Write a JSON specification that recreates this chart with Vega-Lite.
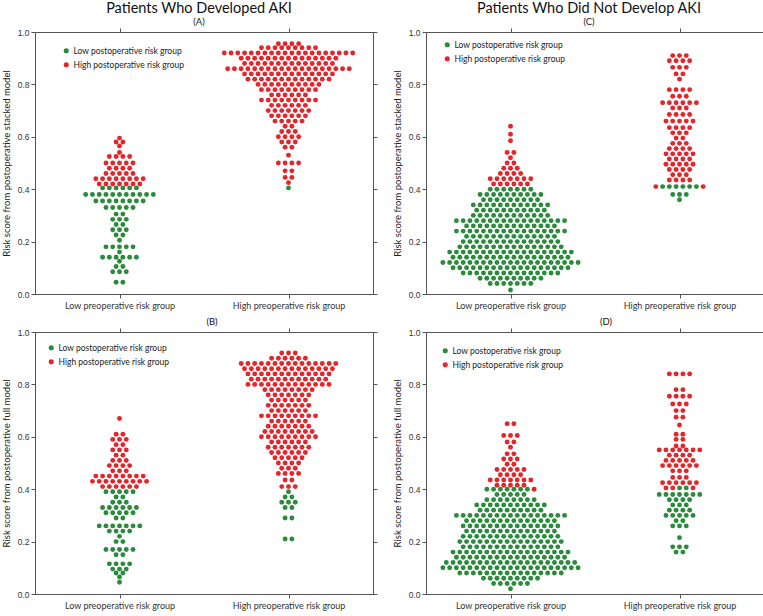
{
"$schema":"https://vega.github.io/schema/vega-lite/v6.json",
"background":"white",
"padding":{"left":0,"top":0,"right":0,"bottom":0},
"config":{
 "font":"Lato",
 "view":{"stroke":"#666","strokeWidth":1},
 "axis":{"domain":true,"ticks":true,"domainColor":"#555","domainWidth":1,"tickColor":"#555","tickWidth":1,"zindex":1,"grid":false,"labelColor":"#333","labelFont":"Liberation Sans","labelFontSize":8.5,"tickSize":4,"titleFont":"Lato","titleFontWeight":"normal","titleFontSize":9.5,"titleColor":"#222"},
 "legend":{"orient":"none","title":null,"symbolType":"circle","symbolSize":26,"symbolStrokeWidth":0,"labelFont":"Lato","labelFontSize":8.5,"labelColor":"#222","rowPadding":5,"labelOffset":3,"padding":0},
 "title":{"font":"Lato","fontWeight":"normal","color":"#111","anchor":"middle","frame":"group","subtitleFont":"Lato","subtitleColor":"#222"}
},
"datasets":{
"A":[
{"g":"L","c":"H","y":0.595},
{"g":"L","c":"H","y":0.58},{"g":"L","c":"H","y":0.58},
{"g":"L","c":"H","y":0.565},
{"g":"L","c":"H","y":0.54},
{"g":"L","c":"H","y":0.525},{"g":"L","c":"H","y":0.525},{"g":"L","c":"H","y":0.525},{"g":"L","c":"H","y":0.525},
{"g":"L","c":"H","y":0.5},{"g":"L","c":"H","y":0.5},{"g":"L","c":"H","y":0.5},{"g":"L","c":"H","y":0.5},{"g":"L","c":"H","y":0.5},
{"g":"L","c":"H","y":0.48},{"g":"L","c":"H","y":0.48},{"g":"L","c":"H","y":0.48},{"g":"L","c":"H","y":0.48},
{"g":"L","c":"H","y":0.46},{"g":"L","c":"H","y":0.46},{"g":"L","c":"H","y":0.46},{"g":"L","c":"H","y":0.46},{"g":"L","c":"H","y":0.46},
{"g":"L","c":"H","y":0.44},{"g":"L","c":"H","y":0.44},{"g":"L","c":"H","y":0.44},{"g":"L","c":"H","y":0.44},{"g":"L","c":"H","y":0.44},{"g":"L","c":"H","y":0.44},{"g":"L","c":"H","y":0.44},{"g":"L","c":"H","y":0.44},
{"g":"L","c":"H","y":0.42},{"g":"L","c":"H","y":0.42},{"g":"L","c":"H","y":0.42},{"g":"L","c":"H","y":0.42},{"g":"L","c":"H","y":0.42},{"g":"L","c":"H","y":0.42},{"g":"L","c":"H","y":0.42},
{"g":"L","c":"L","y":0.405},{"g":"L","c":"L","y":0.405},{"g":"L","c":"L","y":0.405},{"g":"L","c":"L","y":0.405},{"g":"L","c":"L","y":0.405},{"g":"L","c":"L","y":0.405},
{"g":"L","c":"L","y":0.38},{"g":"L","c":"L","y":0.38},{"g":"L","c":"L","y":0.38},{"g":"L","c":"L","y":0.38},{"g":"L","c":"L","y":0.38},{"g":"L","c":"L","y":0.38},{"g":"L","c":"L","y":0.38},{"g":"L","c":"L","y":0.38},{"g":"L","c":"L","y":0.38},{"g":"L","c":"L","y":0.38},{"g":"L","c":"L","y":0.38},
{"g":"L","c":"L","y":0.355},{"g":"L","c":"L","y":0.355},{"g":"L","c":"L","y":0.355},{"g":"L","c":"L","y":0.355},{"g":"L","c":"L","y":0.355},{"g":"L","c":"L","y":0.355},{"g":"L","c":"L","y":0.355},{"g":"L","c":"L","y":0.355},
{"g":"L","c":"L","y":0.33},{"g":"L","c":"L","y":0.33},{"g":"L","c":"L","y":0.33},{"g":"L","c":"L","y":0.33},{"g":"L","c":"L","y":0.33},
{"g":"L","c":"L","y":0.305},{"g":"L","c":"L","y":0.305},
{"g":"L","c":"L","y":0.285},{"g":"L","c":"L","y":0.285},{"g":"L","c":"L","y":0.285},
{"g":"L","c":"L","y":0.265},{"g":"L","c":"L","y":0.265},
{"g":"L","c":"L","y":0.245},{"g":"L","c":"L","y":0.245},{"g":"L","c":"L","y":0.245},
{"g":"L","c":"L","y":0.225},{"g":"L","c":"L","y":0.225},
{"g":"L","c":"L","y":0.205},
{"g":"L","c":"L","y":0.18},{"g":"L","c":"L","y":0.18},{"g":"L","c":"L","y":0.18},{"g":"L","c":"L","y":0.18},{"g":"L","c":"L","y":0.18},
{"g":"L","c":"L","y":0.16},
{"g":"L","c":"L","y":0.14},{"g":"L","c":"L","y":0.14},{"g":"L","c":"L","y":0.14},{"g":"L","c":"L","y":0.14},{"g":"L","c":"L","y":0.14},{"g":"L","c":"L","y":0.14},
{"g":"L","c":"L","y":0.125},
{"g":"L","c":"L","y":0.105},{"g":"L","c":"L","y":0.105},
{"g":"L","c":"L","y":0.085},{"g":"L","c":"L","y":0.085},{"g":"L","c":"L","y":0.085},
{"g":"L","c":"L","y":0.045},{"g":"L","c":"L","y":0.045},
{"g":"H","c":"H","y":0.955},{"g":"H","c":"H","y":0.955},{"g":"H","c":"H","y":0.955},{"g":"H","c":"H","y":0.955},
{"g":"H","c":"H","y":0.94},{"g":"H","c":"H","y":0.94},{"g":"H","c":"H","y":0.94},{"g":"H","c":"H","y":0.94},{"g":"H","c":"H","y":0.94},{"g":"H","c":"H","y":0.94},{"g":"H","c":"H","y":0.94},{"g":"H","c":"H","y":0.94},{"g":"H","c":"H","y":0.94},
{"g":"H","c":"H","y":0.92},{"g":"H","c":"H","y":0.92},{"g":"H","c":"H","y":0.92},{"g":"H","c":"H","y":0.92},{"g":"H","c":"H","y":0.92},{"g":"H","c":"H","y":0.92},{"g":"H","c":"H","y":0.92},{"g":"H","c":"H","y":0.92},{"g":"H","c":"H","y":0.92},{"g":"H","c":"H","y":0.92},{"g":"H","c":"H","y":0.92},{"g":"H","c":"H","y":0.92},{"g":"H","c":"H","y":0.92},{"g":"H","c":"H","y":0.92},{"g":"H","c":"H","y":0.92},{"g":"H","c":"H","y":0.92},{"g":"H","c":"H","y":0.92},{"g":"H","c":"H","y":0.92},{"g":"H","c":"H","y":0.92},{"g":"H","c":"H","y":0.92},
{"g":"H","c":"H","y":0.9},{"g":"H","c":"H","y":0.9},{"g":"H","c":"H","y":0.9},{"g":"H","c":"H","y":0.9},{"g":"H","c":"H","y":0.9},{"g":"H","c":"H","y":0.9},{"g":"H","c":"H","y":0.9},{"g":"H","c":"H","y":0.9},{"g":"H","c":"H","y":0.9},{"g":"H","c":"H","y":0.9},{"g":"H","c":"H","y":0.9},{"g":"H","c":"H","y":0.9},{"g":"H","c":"H","y":0.9},{"g":"H","c":"H","y":0.9},{"g":"H","c":"H","y":0.9},
{"g":"H","c":"H","y":0.88},{"g":"H","c":"H","y":0.88},{"g":"H","c":"H","y":0.88},{"g":"H","c":"H","y":0.88},{"g":"H","c":"H","y":0.88},{"g":"H","c":"H","y":0.88},{"g":"H","c":"H","y":0.88},{"g":"H","c":"H","y":0.88},{"g":"H","c":"H","y":0.88},{"g":"H","c":"H","y":0.88},{"g":"H","c":"H","y":0.88},{"g":"H","c":"H","y":0.88},{"g":"H","c":"H","y":0.88},{"g":"H","c":"H","y":0.88},
{"g":"H","c":"H","y":0.86},{"g":"H","c":"H","y":0.86},{"g":"H","c":"H","y":0.86},{"g":"H","c":"H","y":0.86},{"g":"H","c":"H","y":0.86},{"g":"H","c":"H","y":0.86},{"g":"H","c":"H","y":0.86},{"g":"H","c":"H","y":0.86},{"g":"H","c":"H","y":0.86},{"g":"H","c":"H","y":0.86},{"g":"H","c":"H","y":0.86},{"g":"H","c":"H","y":0.86},{"g":"H","c":"H","y":0.86},{"g":"H","c":"H","y":0.86},{"g":"H","c":"H","y":0.86},{"g":"H","c":"H","y":0.86},{"g":"H","c":"H","y":0.86},{"g":"H","c":"H","y":0.86},{"g":"H","c":"H","y":0.86},
{"g":"H","c":"H","y":0.84},{"g":"H","c":"H","y":0.84},{"g":"H","c":"H","y":0.84},{"g":"H","c":"H","y":0.84},{"g":"H","c":"H","y":0.84},{"g":"H","c":"H","y":0.84},{"g":"H","c":"H","y":0.84},{"g":"H","c":"H","y":0.84},{"g":"H","c":"H","y":0.84},{"g":"H","c":"H","y":0.84},{"g":"H","c":"H","y":0.84},{"g":"H","c":"H","y":0.84},{"g":"H","c":"H","y":0.84},{"g":"H","c":"H","y":0.84},
{"g":"H","c":"H","y":0.82},{"g":"H","c":"H","y":0.82},{"g":"H","c":"H","y":0.82},{"g":"H","c":"H","y":0.82},{"g":"H","c":"H","y":0.82},{"g":"H","c":"H","y":0.82},{"g":"H","c":"H","y":0.82},{"g":"H","c":"H","y":0.82},{"g":"H","c":"H","y":0.82},{"g":"H","c":"H","y":0.82},{"g":"H","c":"H","y":0.82},{"g":"H","c":"H","y":0.82},{"g":"H","c":"H","y":0.82},
{"g":"H","c":"H","y":0.8},{"g":"H","c":"H","y":0.8},{"g":"H","c":"H","y":0.8},{"g":"H","c":"H","y":0.8},{"g":"H","c":"H","y":0.8},{"g":"H","c":"H","y":0.8},{"g":"H","c":"H","y":0.8},{"g":"H","c":"H","y":0.8},{"g":"H","c":"H","y":0.8},{"g":"H","c":"H","y":0.8},
{"g":"H","c":"H","y":0.78},{"g":"H","c":"H","y":0.78},{"g":"H","c":"H","y":0.78},{"g":"H","c":"H","y":0.78},{"g":"H","c":"H","y":0.78},{"g":"H","c":"H","y":0.78},{"g":"H","c":"H","y":0.78},{"g":"H","c":"H","y":0.78},{"g":"H","c":"H","y":0.78},
{"g":"H","c":"H","y":0.76},{"g":"H","c":"H","y":0.76},{"g":"H","c":"H","y":0.76},{"g":"H","c":"H","y":0.76},{"g":"H","c":"H","y":0.76},{"g":"H","c":"H","y":0.76},
{"g":"H","c":"H","y":0.74},{"g":"H","c":"H","y":0.74},{"g":"H","c":"H","y":0.74},{"g":"H","c":"H","y":0.74},{"g":"H","c":"H","y":0.74},{"g":"H","c":"H","y":0.74},{"g":"H","c":"H","y":0.74},{"g":"H","c":"H","y":0.74},{"g":"H","c":"H","y":0.74},
{"g":"H","c":"H","y":0.72},{"g":"H","c":"H","y":0.72},{"g":"H","c":"H","y":0.72},{"g":"H","c":"H","y":0.72},{"g":"H","c":"H","y":0.72},{"g":"H","c":"H","y":0.72},
{"g":"H","c":"H","y":0.7},{"g":"H","c":"H","y":0.7},{"g":"H","c":"H","y":0.7},{"g":"H","c":"H","y":0.7},{"g":"H","c":"H","y":0.7},{"g":"H","c":"H","y":0.7},{"g":"H","c":"H","y":0.7},
{"g":"H","c":"H","y":0.68},{"g":"H","c":"H","y":0.68},{"g":"H","c":"H","y":0.68},{"g":"H","c":"H","y":0.68},{"g":"H","c":"H","y":0.68},{"g":"H","c":"H","y":0.68},
{"g":"H","c":"H","y":0.66},{"g":"H","c":"H","y":0.66},{"g":"H","c":"H","y":0.66},{"g":"H","c":"H","y":0.66},{"g":"H","c":"H","y":0.66},
{"g":"H","c":"H","y":0.64},{"g":"H","c":"H","y":0.64},
{"g":"H","c":"H","y":0.62},{"g":"H","c":"H","y":0.62},{"g":"H","c":"H","y":0.62},
{"g":"H","c":"H","y":0.6},{"g":"H","c":"H","y":0.6},{"g":"H","c":"H","y":0.6},{"g":"H","c":"H","y":0.6},
{"g":"H","c":"H","y":0.58},{"g":"H","c":"H","y":0.58},{"g":"H","c":"H","y":0.58},
{"g":"H","c":"H","y":0.56},{"g":"H","c":"H","y":0.56},
{"g":"H","c":"H","y":0.53},
{"g":"H","c":"H","y":0.5},{"g":"H","c":"H","y":0.5},{"g":"H","c":"H","y":0.5},{"g":"H","c":"H","y":0.5},
{"g":"H","c":"H","y":0.47},{"g":"H","c":"H","y":0.47},
{"g":"H","c":"H","y":0.445},{"g":"H","c":"H","y":0.445},
{"g":"H","c":"H","y":0.425},
{"g":"H","c":"L","y":0.405}
],
"C":[
{"g":"L","c":"H","y":0.64},
{"g":"L","c":"H","y":0.61},
{"g":"L","c":"H","y":0.585},
{"g":"L","c":"H","y":0.54},{"g":"L","c":"H","y":0.54},
{"g":"L","c":"H","y":0.52},
{"g":"L","c":"H","y":0.5},{"g":"L","c":"H","y":0.5},
{"g":"L","c":"H","y":0.48},{"g":"L","c":"H","y":0.48},{"g":"L","c":"H","y":0.48},
{"g":"L","c":"H","y":0.46},{"g":"L","c":"H","y":0.46},{"g":"L","c":"H","y":0.46},{"g":"L","c":"H","y":0.46},
{"g":"L","c":"H","y":0.44},{"g":"L","c":"H","y":0.44},{"g":"L","c":"H","y":0.44},{"g":"L","c":"H","y":0.44},{"g":"L","c":"H","y":0.44},{"g":"L","c":"H","y":0.44},{"g":"L","c":"H","y":0.44},
{"g":"L","c":"H","y":0.42},{"g":"L","c":"H","y":0.42},{"g":"L","c":"H","y":0.42},{"g":"L","c":"H","y":0.42},{"g":"L","c":"H","y":0.42},{"g":"L","c":"H","y":0.42},
{"g":"L","c":"L","y":0.4},{"g":"L","c":"L","y":0.4},{"g":"L","c":"L","y":0.4},{"g":"L","c":"L","y":0.4},{"g":"L","c":"L","y":0.4},{"g":"L","c":"L","y":0.4},{"g":"L","c":"L","y":0.4},
{"g":"L","c":"L","y":0.38},{"g":"L","c":"L","y":0.38},{"g":"L","c":"L","y":0.38},{"g":"L","c":"L","y":0.38},{"g":"L","c":"L","y":0.38},{"g":"L","c":"L","y":0.38},{"g":"L","c":"L","y":0.38},{"g":"L","c":"L","y":0.38},{"g":"L","c":"L","y":0.38},{"g":"L","c":"L","y":0.38},
{"g":"L","c":"L","y":0.36},{"g":"L","c":"L","y":0.36},{"g":"L","c":"L","y":0.36},{"g":"L","c":"L","y":0.36},{"g":"L","c":"L","y":0.36},{"g":"L","c":"L","y":0.36},{"g":"L","c":"L","y":0.36},{"g":"L","c":"L","y":0.36},{"g":"L","c":"L","y":0.36},
{"g":"L","c":"L","y":0.34},{"g":"L","c":"L","y":0.34},{"g":"L","c":"L","y":0.34},{"g":"L","c":"L","y":0.34},{"g":"L","c":"L","y":0.34},{"g":"L","c":"L","y":0.34},{"g":"L","c":"L","y":0.34},{"g":"L","c":"L","y":0.34},{"g":"L","c":"L","y":0.34},{"g":"L","c":"L","y":0.34},{"g":"L","c":"L","y":0.34},{"g":"L","c":"L","y":0.34},
{"g":"L","c":"L","y":0.32},{"g":"L","c":"L","y":0.32},{"g":"L","c":"L","y":0.32},{"g":"L","c":"L","y":0.32},{"g":"L","c":"L","y":0.32},{"g":"L","c":"L","y":0.32},{"g":"L","c":"L","y":0.32},{"g":"L","c":"L","y":0.32},{"g":"L","c":"L","y":0.32},{"g":"L","c":"L","y":0.32},{"g":"L","c":"L","y":0.32},
{"g":"L","c":"L","y":0.3},{"g":"L","c":"L","y":0.3},{"g":"L","c":"L","y":0.3},{"g":"L","c":"L","y":0.3},{"g":"L","c":"L","y":0.3},{"g":"L","c":"L","y":0.3},{"g":"L","c":"L","y":0.3},{"g":"L","c":"L","y":0.3},{"g":"L","c":"L","y":0.3},{"g":"L","c":"L","y":0.3},{"g":"L","c":"L","y":0.3},{"g":"L","c":"L","y":0.3},
{"g":"L","c":"L","y":0.28},{"g":"L","c":"L","y":0.28},{"g":"L","c":"L","y":0.28},{"g":"L","c":"L","y":0.28},{"g":"L","c":"L","y":0.28},{"g":"L","c":"L","y":0.28},{"g":"L","c":"L","y":0.28},{"g":"L","c":"L","y":0.28},{"g":"L","c":"L","y":0.28},{"g":"L","c":"L","y":0.28},{"g":"L","c":"L","y":0.28},{"g":"L","c":"L","y":0.28},{"g":"L","c":"L","y":0.28},{"g":"L","c":"L","y":0.28},{"g":"L","c":"L","y":0.28},{"g":"L","c":"L","y":0.28},{"g":"L","c":"L","y":0.28},
{"g":"L","c":"L","y":0.26},{"g":"L","c":"L","y":0.26},{"g":"L","c":"L","y":0.26},{"g":"L","c":"L","y":0.26},{"g":"L","c":"L","y":0.26},{"g":"L","c":"L","y":0.26},{"g":"L","c":"L","y":0.26},{"g":"L","c":"L","y":0.26},{"g":"L","c":"L","y":0.26},{"g":"L","c":"L","y":0.26},{"g":"L","c":"L","y":0.26},{"g":"L","c":"L","y":0.26},{"g":"L","c":"L","y":0.26},{"g":"L","c":"L","y":0.26},
{"g":"L","c":"L","y":0.24},{"g":"L","c":"L","y":0.24},{"g":"L","c":"L","y":0.24},{"g":"L","c":"L","y":0.24},{"g":"L","c":"L","y":0.24},{"g":"L","c":"L","y":0.24},{"g":"L","c":"L","y":0.24},{"g":"L","c":"L","y":0.24},{"g":"L","c":"L","y":0.24},{"g":"L","c":"L","y":0.24},{"g":"L","c":"L","y":0.24},{"g":"L","c":"L","y":0.24},{"g":"L","c":"L","y":0.24},{"g":"L","c":"L","y":0.24},{"g":"L","c":"L","y":0.24},{"g":"L","c":"L","y":0.24},{"g":"L","c":"L","y":0.24},
{"g":"L","c":"L","y":0.22},{"g":"L","c":"L","y":0.22},{"g":"L","c":"L","y":0.22},{"g":"L","c":"L","y":0.22},{"g":"L","c":"L","y":0.22},{"g":"L","c":"L","y":0.22},{"g":"L","c":"L","y":0.22},{"g":"L","c":"L","y":0.22},{"g":"L","c":"L","y":0.22},{"g":"L","c":"L","y":0.22},{"g":"L","c":"L","y":0.22},{"g":"L","c":"L","y":0.22},{"g":"L","c":"L","y":0.22},{"g":"L","c":"L","y":0.22},
{"g":"L","c":"L","y":0.2},{"g":"L","c":"L","y":0.2},{"g":"L","c":"L","y":0.2},{"g":"L","c":"L","y":0.2},{"g":"L","c":"L","y":0.2},{"g":"L","c":"L","y":0.2},{"g":"L","c":"L","y":0.2},{"g":"L","c":"L","y":0.2},{"g":"L","c":"L","y":0.2},{"g":"L","c":"L","y":0.2},{"g":"L","c":"L","y":0.2},{"g":"L","c":"L","y":0.2},{"g":"L","c":"L","y":0.2},{"g":"L","c":"L","y":0.2},{"g":"L","c":"L","y":0.2},
{"g":"L","c":"L","y":0.18},{"g":"L","c":"L","y":0.18},{"g":"L","c":"L","y":0.18},{"g":"L","c":"L","y":0.18},{"g":"L","c":"L","y":0.18},{"g":"L","c":"L","y":0.18},{"g":"L","c":"L","y":0.18},{"g":"L","c":"L","y":0.18},{"g":"L","c":"L","y":0.18},{"g":"L","c":"L","y":0.18},{"g":"L","c":"L","y":0.18},{"g":"L","c":"L","y":0.18},{"g":"L","c":"L","y":0.18},{"g":"L","c":"L","y":0.18},{"g":"L","c":"L","y":0.18},{"g":"L","c":"L","y":0.18},
{"g":"L","c":"L","y":0.16},{"g":"L","c":"L","y":0.16},{"g":"L","c":"L","y":0.16},{"g":"L","c":"L","y":0.16},{"g":"L","c":"L","y":0.16},{"g":"L","c":"L","y":0.16},{"g":"L","c":"L","y":0.16},{"g":"L","c":"L","y":0.16},{"g":"L","c":"L","y":0.16},{"g":"L","c":"L","y":0.16},{"g":"L","c":"L","y":0.16},{"g":"L","c":"L","y":0.16},{"g":"L","c":"L","y":0.16},{"g":"L","c":"L","y":0.16},{"g":"L","c":"L","y":0.16},{"g":"L","c":"L","y":0.16},{"g":"L","c":"L","y":0.16},{"g":"L","c":"L","y":0.16},{"g":"L","c":"L","y":0.16},
{"g":"L","c":"L","y":0.14},{"g":"L","c":"L","y":0.14},{"g":"L","c":"L","y":0.14},{"g":"L","c":"L","y":0.14},{"g":"L","c":"L","y":0.14},{"g":"L","c":"L","y":0.14},{"g":"L","c":"L","y":0.14},{"g":"L","c":"L","y":0.14},{"g":"L","c":"L","y":0.14},{"g":"L","c":"L","y":0.14},{"g":"L","c":"L","y":0.14},{"g":"L","c":"L","y":0.14},{"g":"L","c":"L","y":0.14},{"g":"L","c":"L","y":0.14},{"g":"L","c":"L","y":0.14},{"g":"L","c":"L","y":0.14},{"g":"L","c":"L","y":0.14},{"g":"L","c":"L","y":0.14},
{"g":"L","c":"L","y":0.12},{"g":"L","c":"L","y":0.12},{"g":"L","c":"L","y":0.12},{"g":"L","c":"L","y":0.12},{"g":"L","c":"L","y":0.12},{"g":"L","c":"L","y":0.12},{"g":"L","c":"L","y":0.12},{"g":"L","c":"L","y":0.12},{"g":"L","c":"L","y":0.12},{"g":"L","c":"L","y":0.12},{"g":"L","c":"L","y":0.12},{"g":"L","c":"L","y":0.12},{"g":"L","c":"L","y":0.12},{"g":"L","c":"L","y":0.12},{"g":"L","c":"L","y":0.12},{"g":"L","c":"L","y":0.12},{"g":"L","c":"L","y":0.12},{"g":"L","c":"L","y":0.12},{"g":"L","c":"L","y":0.12},{"g":"L","c":"L","y":0.12},{"g":"L","c":"L","y":0.12},
{"g":"L","c":"L","y":0.1},{"g":"L","c":"L","y":0.1},{"g":"L","c":"L","y":0.1},{"g":"L","c":"L","y":0.1},{"g":"L","c":"L","y":0.1},{"g":"L","c":"L","y":0.1},{"g":"L","c":"L","y":0.1},{"g":"L","c":"L","y":0.1},{"g":"L","c":"L","y":0.1},{"g":"L","c":"L","y":0.1},{"g":"L","c":"L","y":0.1},{"g":"L","c":"L","y":0.1},{"g":"L","c":"L","y":0.1},{"g":"L","c":"L","y":0.1},{"g":"L","c":"L","y":0.1},{"g":"L","c":"L","y":0.1},{"g":"L","c":"L","y":0.1},{"g":"L","c":"L","y":0.1},
{"g":"L","c":"L","y":0.08},{"g":"L","c":"L","y":0.08},{"g":"L","c":"L","y":0.08},{"g":"L","c":"L","y":0.08},{"g":"L","c":"L","y":0.08},{"g":"L","c":"L","y":0.08},{"g":"L","c":"L","y":0.08},{"g":"L","c":"L","y":0.08},{"g":"L","c":"L","y":0.08},{"g":"L","c":"L","y":0.08},{"g":"L","c":"L","y":0.08},{"g":"L","c":"L","y":0.08},{"g":"L","c":"L","y":0.08},{"g":"L","c":"L","y":0.08},{"g":"L","c":"L","y":0.08},
{"g":"L","c":"L","y":0.06},{"g":"L","c":"L","y":0.06},{"g":"L","c":"L","y":0.06},{"g":"L","c":"L","y":0.06},{"g":"L","c":"L","y":0.06},{"g":"L","c":"L","y":0.06},{"g":"L","c":"L","y":0.06},{"g":"L","c":"L","y":0.06},{"g":"L","c":"L","y":0.06},{"g":"L","c":"L","y":0.06},
{"g":"L","c":"L","y":0.04},{"g":"L","c":"L","y":0.04},{"g":"L","c":"L","y":0.04},{"g":"L","c":"L","y":0.04},{"g":"L","c":"L","y":0.04},{"g":"L","c":"L","y":0.04},{"g":"L","c":"L","y":0.04},
{"g":"L","c":"L","y":0.015},
{"g":"H","c":"H","y":0.91},{"g":"H","c":"H","y":0.91},{"g":"H","c":"H","y":0.91},
{"g":"H","c":"H","y":0.89},{"g":"H","c":"H","y":0.89},{"g":"H","c":"H","y":0.89},{"g":"H","c":"H","y":0.89},
{"g":"H","c":"H","y":0.865},{"g":"H","c":"H","y":0.865},{"g":"H","c":"H","y":0.865},
{"g":"H","c":"H","y":0.84},{"g":"H","c":"H","y":0.84},
{"g":"H","c":"H","y":0.82},
{"g":"H","c":"H","y":0.78},{"g":"H","c":"H","y":0.78},{"g":"H","c":"H","y":0.78},{"g":"H","c":"H","y":0.78},
{"g":"H","c":"H","y":0.755},{"g":"H","c":"H","y":0.755},{"g":"H","c":"H","y":0.755},
{"g":"H","c":"H","y":0.73},{"g":"H","c":"H","y":0.73},{"g":"H","c":"H","y":0.73},{"g":"H","c":"H","y":0.73},{"g":"H","c":"H","y":0.73},{"g":"H","c":"H","y":0.73},
{"g":"H","c":"H","y":0.71},{"g":"H","c":"H","y":0.71},{"g":"H","c":"H","y":0.71},
{"g":"H","c":"H","y":0.685},{"g":"H","c":"H","y":0.685},{"g":"H","c":"H","y":0.685},{"g":"H","c":"H","y":0.685},
{"g":"H","c":"H","y":0.66},{"g":"H","c":"H","y":0.66},{"g":"H","c":"H","y":0.66},{"g":"H","c":"H","y":0.66},{"g":"H","c":"H","y":0.66},
{"g":"H","c":"H","y":0.635},{"g":"H","c":"H","y":0.635},{"g":"H","c":"H","y":0.635},{"g":"H","c":"H","y":0.635},
{"g":"H","c":"H","y":0.615},{"g":"H","c":"H","y":0.615},{"g":"H","c":"H","y":0.615},
{"g":"H","c":"H","y":0.595},{"g":"H","c":"H","y":0.595},
{"g":"H","c":"H","y":0.575},{"g":"H","c":"H","y":0.575},{"g":"H","c":"H","y":0.575},
{"g":"H","c":"H","y":0.555},{"g":"H","c":"H","y":0.555},{"g":"H","c":"H","y":0.555},{"g":"H","c":"H","y":0.555},
{"g":"H","c":"H","y":0.535},{"g":"H","c":"H","y":0.535},{"g":"H","c":"H","y":0.535},{"g":"H","c":"H","y":0.535},{"g":"H","c":"H","y":0.535},
{"g":"H","c":"H","y":0.515},{"g":"H","c":"H","y":0.515},{"g":"H","c":"H","y":0.515},{"g":"H","c":"H","y":0.515},
{"g":"H","c":"H","y":0.495},{"g":"H","c":"H","y":0.495},{"g":"H","c":"H","y":0.495},{"g":"H","c":"H","y":0.495},{"g":"H","c":"H","y":0.495},
{"g":"H","c":"H","y":0.475},{"g":"H","c":"H","y":0.475},{"g":"H","c":"H","y":0.475},{"g":"H","c":"H","y":0.475},
{"g":"H","c":"H","y":0.455},{"g":"H","c":"H","y":0.455},{"g":"H","c":"H","y":0.455},
{"g":"H","c":"H","y":0.435},{"g":"H","c":"H","y":0.435},{"g":"H","c":"H","y":0.435},{"g":"H","c":"H","y":0.435},
{"g":"H","c":"H","y":0.41},{"g":"H","c":"H","y":0.41},
{"g":"H","c":"L","y":0.41},{"g":"H","c":"L","y":0.41},{"g":"H","c":"L","y":0.41},{"g":"H","c":"L","y":0.41},{"g":"H","c":"L","y":0.41},{"g":"H","c":"L","y":0.41},
{"g":"H","c":"L","y":0.38},{"g":"H","c":"L","y":0.38},{"g":"H","c":"L","y":0.38},
{"g":"H","c":"L","y":0.36}
],
"B":[
{"g":"L","c":"H","y":0.67},
{"g":"L","c":"H","y":0.61},{"g":"L","c":"H","y":0.61},
{"g":"L","c":"H","y":0.59},{"g":"L","c":"H","y":0.59},{"g":"L","c":"H","y":0.59},
{"g":"L","c":"H","y":0.57},{"g":"L","c":"H","y":0.57},
{"g":"L","c":"H","y":0.55},{"g":"L","c":"H","y":0.55},{"g":"L","c":"H","y":0.55},
{"g":"L","c":"H","y":0.53},{"g":"L","c":"H","y":0.53},
{"g":"L","c":"H","y":0.51},{"g":"L","c":"H","y":0.51},{"g":"L","c":"H","y":0.51},
{"g":"L","c":"H","y":0.49},{"g":"L","c":"H","y":0.49},{"g":"L","c":"H","y":0.49},{"g":"L","c":"H","y":0.49},
{"g":"L","c":"H","y":0.47},{"g":"L","c":"H","y":0.47},{"g":"L","c":"H","y":0.47},
{"g":"L","c":"H","y":0.45},{"g":"L","c":"H","y":0.45},{"g":"L","c":"H","y":0.45},{"g":"L","c":"H","y":0.45},{"g":"L","c":"H","y":0.45},{"g":"L","c":"H","y":0.45},{"g":"L","c":"H","y":0.45},{"g":"L","c":"H","y":0.45},
{"g":"L","c":"H","y":0.43},{"g":"L","c":"H","y":0.43},{"g":"L","c":"H","y":0.43},{"g":"L","c":"H","y":0.43},{"g":"L","c":"H","y":0.43},{"g":"L","c":"H","y":0.43},{"g":"L","c":"H","y":0.43},{"g":"L","c":"H","y":0.43},{"g":"L","c":"H","y":0.43},
{"g":"L","c":"H","y":0.41},{"g":"L","c":"H","y":0.41},{"g":"L","c":"H","y":0.41},{"g":"L","c":"H","y":0.41},{"g":"L","c":"H","y":0.41},{"g":"L","c":"H","y":0.41},
{"g":"L","c":"L","y":0.39},{"g":"L","c":"L","y":0.39},{"g":"L","c":"L","y":0.39},{"g":"L","c":"L","y":0.39},{"g":"L","c":"L","y":0.39},
{"g":"L","c":"L","y":0.37},{"g":"L","c":"L","y":0.37},
{"g":"L","c":"L","y":0.35},{"g":"L","c":"L","y":0.35},{"g":"L","c":"L","y":0.35},
{"g":"L","c":"L","y":0.33},{"g":"L","c":"L","y":0.33},{"g":"L","c":"L","y":0.33},{"g":"L","c":"L","y":0.33},{"g":"L","c":"L","y":0.33},{"g":"L","c":"L","y":0.33},
{"g":"L","c":"L","y":0.31},{"g":"L","c":"L","y":0.31},{"g":"L","c":"L","y":0.31},{"g":"L","c":"L","y":0.31},{"g":"L","c":"L","y":0.31},
{"g":"L","c":"L","y":0.29},{"g":"L","c":"L","y":0.29},
{"g":"L","c":"L","y":0.26},{"g":"L","c":"L","y":0.26},{"g":"L","c":"L","y":0.26},{"g":"L","c":"L","y":0.26},{"g":"L","c":"L","y":0.26},{"g":"L","c":"L","y":0.26},{"g":"L","c":"L","y":0.26},
{"g":"L","c":"L","y":0.24},{"g":"L","c":"L","y":0.24},{"g":"L","c":"L","y":0.24},{"g":"L","c":"L","y":0.24},
{"g":"L","c":"L","y":0.22},
{"g":"L","c":"L","y":0.2},{"g":"L","c":"L","y":0.2},
{"g":"L","c":"L","y":0.17},{"g":"L","c":"L","y":0.17},{"g":"L","c":"L","y":0.17},{"g":"L","c":"L","y":0.17},{"g":"L","c":"L","y":0.17},
{"g":"L","c":"L","y":0.15},{"g":"L","c":"L","y":0.15},
{"g":"L","c":"L","y":0.115},{"g":"L","c":"L","y":0.115},{"g":"L","c":"L","y":0.115},{"g":"L","c":"L","y":0.115},
{"g":"L","c":"L","y":0.095},{"g":"L","c":"L","y":0.095},{"g":"L","c":"L","y":0.095},
{"g":"L","c":"L","y":0.08},{"g":"L","c":"L","y":0.08},
{"g":"L","c":"L","y":0.065},
{"g":"L","c":"L","y":0.045},
{"g":"H","c":"H","y":0.92},{"g":"H","c":"H","y":0.92},{"g":"H","c":"H","y":0.92},
{"g":"H","c":"H","y":0.9},{"g":"H","c":"H","y":0.9},{"g":"H","c":"H","y":0.9},{"g":"H","c":"H","y":0.9},{"g":"H","c":"H","y":0.9},{"g":"H","c":"H","y":0.9},
{"g":"H","c":"H","y":0.88},{"g":"H","c":"H","y":0.88},{"g":"H","c":"H","y":0.88},{"g":"H","c":"H","y":0.88},{"g":"H","c":"H","y":0.88},{"g":"H","c":"H","y":0.88},{"g":"H","c":"H","y":0.88},{"g":"H","c":"H","y":0.88},{"g":"H","c":"H","y":0.88},{"g":"H","c":"H","y":0.88},{"g":"H","c":"H","y":0.88},{"g":"H","c":"H","y":0.88},{"g":"H","c":"H","y":0.88},{"g":"H","c":"H","y":0.88},{"g":"H","c":"H","y":0.88},
{"g":"H","c":"H","y":0.86},{"g":"H","c":"H","y":0.86},{"g":"H","c":"H","y":0.86},{"g":"H","c":"H","y":0.86},{"g":"H","c":"H","y":0.86},{"g":"H","c":"H","y":0.86},{"g":"H","c":"H","y":0.86},{"g":"H","c":"H","y":0.86},{"g":"H","c":"H","y":0.86},{"g":"H","c":"H","y":0.86},{"g":"H","c":"H","y":0.86},{"g":"H","c":"H","y":0.86},{"g":"H","c":"H","y":0.86},{"g":"H","c":"H","y":0.86},
{"g":"H","c":"H","y":0.84},{"g":"H","c":"H","y":0.84},{"g":"H","c":"H","y":0.84},{"g":"H","c":"H","y":0.84},{"g":"H","c":"H","y":0.84},{"g":"H","c":"H","y":0.84},{"g":"H","c":"H","y":0.84},{"g":"H","c":"H","y":0.84},{"g":"H","c":"H","y":0.84},{"g":"H","c":"H","y":0.84},{"g":"H","c":"H","y":0.84},{"g":"H","c":"H","y":0.84},{"g":"H","c":"H","y":0.84},
{"g":"H","c":"H","y":0.82},{"g":"H","c":"H","y":0.82},{"g":"H","c":"H","y":0.82},{"g":"H","c":"H","y":0.82},{"g":"H","c":"H","y":0.82},{"g":"H","c":"H","y":0.82},{"g":"H","c":"H","y":0.82},{"g":"H","c":"H","y":0.82},{"g":"H","c":"H","y":0.82},{"g":"H","c":"H","y":0.82},{"g":"H","c":"H","y":0.82},{"g":"H","c":"H","y":0.82},
{"g":"H","c":"H","y":0.8},{"g":"H","c":"H","y":0.8},{"g":"H","c":"H","y":0.8},{"g":"H","c":"H","y":0.8},{"g":"H","c":"H","y":0.8},{"g":"H","c":"H","y":0.8},{"g":"H","c":"H","y":0.8},{"g":"H","c":"H","y":0.8},{"g":"H","c":"H","y":0.8},{"g":"H","c":"H","y":0.8},{"g":"H","c":"H","y":0.8},{"g":"H","c":"H","y":0.8},{"g":"H","c":"H","y":0.8},
{"g":"H","c":"H","y":0.78},{"g":"H","c":"H","y":0.78},{"g":"H","c":"H","y":0.78},{"g":"H","c":"H","y":0.78},{"g":"H","c":"H","y":0.78},{"g":"H","c":"H","y":0.78},{"g":"H","c":"H","y":0.78},{"g":"H","c":"H","y":0.78},
{"g":"H","c":"H","y":0.76},{"g":"H","c":"H","y":0.76},{"g":"H","c":"H","y":0.76},{"g":"H","c":"H","y":0.76},{"g":"H","c":"H","y":0.76},{"g":"H","c":"H","y":0.76},{"g":"H","c":"H","y":0.76},
{"g":"H","c":"H","y":0.74},{"g":"H","c":"H","y":0.74},{"g":"H","c":"H","y":0.74},{"g":"H","c":"H","y":0.74},{"g":"H","c":"H","y":0.74},{"g":"H","c":"H","y":0.74},
{"g":"H","c":"H","y":0.72},{"g":"H","c":"H","y":0.72},{"g":"H","c":"H","y":0.72},{"g":"H","c":"H","y":0.72},{"g":"H","c":"H","y":0.72},{"g":"H","c":"H","y":0.72},{"g":"H","c":"H","y":0.72},
{"g":"H","c":"H","y":0.7},{"g":"H","c":"H","y":0.7},{"g":"H","c":"H","y":0.7},{"g":"H","c":"H","y":0.7},{"g":"H","c":"H","y":0.7},{"g":"H","c":"H","y":0.7},
{"g":"H","c":"H","y":0.68},{"g":"H","c":"H","y":0.68},{"g":"H","c":"H","y":0.68},{"g":"H","c":"H","y":0.68},{"g":"H","c":"H","y":0.68},{"g":"H","c":"H","y":0.68},{"g":"H","c":"H","y":0.68},{"g":"H","c":"H","y":0.68},{"g":"H","c":"H","y":0.68},
{"g":"H","c":"H","y":0.66},{"g":"H","c":"H","y":0.66},{"g":"H","c":"H","y":0.66},{"g":"H","c":"H","y":0.66},{"g":"H","c":"H","y":0.66},{"g":"H","c":"H","y":0.66},
{"g":"H","c":"H","y":0.64},{"g":"H","c":"H","y":0.64},{"g":"H","c":"H","y":0.64},{"g":"H","c":"H","y":0.64},{"g":"H","c":"H","y":0.64},{"g":"H","c":"H","y":0.64},{"g":"H","c":"H","y":0.64},
{"g":"H","c":"H","y":0.62},{"g":"H","c":"H","y":0.62},{"g":"H","c":"H","y":0.62},{"g":"H","c":"H","y":0.62},{"g":"H","c":"H","y":0.62},{"g":"H","c":"H","y":0.62},{"g":"H","c":"H","y":0.62},{"g":"H","c":"H","y":0.62},
{"g":"H","c":"H","y":0.6},{"g":"H","c":"H","y":0.6},{"g":"H","c":"H","y":0.6},{"g":"H","c":"H","y":0.6},{"g":"H","c":"H","y":0.6},{"g":"H","c":"H","y":0.6},{"g":"H","c":"H","y":0.6},{"g":"H","c":"H","y":0.6},{"g":"H","c":"H","y":0.6},
{"g":"H","c":"H","y":0.58},{"g":"H","c":"H","y":0.58},{"g":"H","c":"H","y":0.58},{"g":"H","c":"H","y":0.58},{"g":"H","c":"H","y":0.58},{"g":"H","c":"H","y":0.58},
{"g":"H","c":"H","y":0.56},{"g":"H","c":"H","y":0.56},{"g":"H","c":"H","y":0.56},{"g":"H","c":"H","y":0.56},{"g":"H","c":"H","y":0.56},{"g":"H","c":"H","y":0.56},{"g":"H","c":"H","y":0.56},
{"g":"H","c":"H","y":0.54},{"g":"H","c":"H","y":0.54},{"g":"H","c":"H","y":0.54},{"g":"H","c":"H","y":0.54},{"g":"H","c":"H","y":0.54},{"g":"H","c":"H","y":0.54},
{"g":"H","c":"H","y":0.52},{"g":"H","c":"H","y":0.52},{"g":"H","c":"H","y":0.52},{"g":"H","c":"H","y":0.52},{"g":"H","c":"H","y":0.52},
{"g":"H","c":"H","y":0.5},{"g":"H","c":"H","y":0.5},{"g":"H","c":"H","y":0.5},{"g":"H","c":"H","y":0.5},
{"g":"H","c":"H","y":0.48},{"g":"H","c":"H","y":0.48},{"g":"H","c":"H","y":0.48},
{"g":"H","c":"H","y":0.46},{"g":"H","c":"H","y":0.46},{"g":"H","c":"H","y":0.46},{"g":"H","c":"H","y":0.46},
{"g":"H","c":"H","y":0.435},{"g":"H","c":"H","y":0.435},
{"g":"H","c":"H","y":0.41},{"g":"H","c":"H","y":0.41},{"g":"H","c":"H","y":0.41},
{"g":"H","c":"L","y":0.39},
{"g":"H","c":"L","y":0.37},{"g":"H","c":"L","y":0.37},
{"g":"H","c":"L","y":0.35},{"g":"H","c":"L","y":0.35},{"g":"H","c":"L","y":0.35},
{"g":"H","c":"L","y":0.33},{"g":"H","c":"L","y":0.33},
{"g":"H","c":"L","y":0.29},{"g":"H","c":"L","y":0.29},
{"g":"H","c":"L","y":0.21},{"g":"H","c":"L","y":0.21}
],
"D":[
{"g":"L","c":"H","y":0.65},{"g":"L","c":"H","y":0.65},
{"g":"L","c":"H","y":0.605},{"g":"L","c":"H","y":0.605},{"g":"L","c":"H","y":0.605},
{"g":"L","c":"H","y":0.58},{"g":"L","c":"H","y":0.58},
{"g":"L","c":"H","y":0.56},
{"g":"L","c":"H","y":0.535},{"g":"L","c":"H","y":0.535},
{"g":"L","c":"H","y":0.515},{"g":"L","c":"H","y":0.515},{"g":"L","c":"H","y":0.515},
{"g":"L","c":"H","y":0.495},{"g":"L","c":"H","y":0.495},
{"g":"L","c":"H","y":0.475},{"g":"L","c":"H","y":0.475},{"g":"L","c":"H","y":0.475},{"g":"L","c":"H","y":0.475},{"g":"L","c":"H","y":0.475},
{"g":"L","c":"H","y":0.455},{"g":"L","c":"H","y":0.455},{"g":"L","c":"H","y":0.455},{"g":"L","c":"H","y":0.455},
{"g":"L","c":"H","y":0.435},{"g":"L","c":"H","y":0.435},{"g":"L","c":"H","y":0.435},{"g":"L","c":"H","y":0.435},{"g":"L","c":"H","y":0.435},{"g":"L","c":"H","y":0.435},{"g":"L","c":"H","y":0.435},
{"g":"L","c":"H","y":0.415},{"g":"L","c":"H","y":0.415},{"g":"L","c":"H","y":0.415},{"g":"L","c":"H","y":0.415},{"g":"L","c":"H","y":0.415},
{"g":"L","c":"H","y":0.4},
{"g":"L","c":"L","y":0.4},{"g":"L","c":"L","y":0.4},{"g":"L","c":"L","y":0.4},{"g":"L","c":"L","y":0.4},{"g":"L","c":"L","y":0.4},{"g":"L","c":"L","y":0.4},{"g":"L","c":"L","y":0.4},
{"g":"L","c":"L","y":0.38},{"g":"L","c":"L","y":0.38},{"g":"L","c":"L","y":0.38},{"g":"L","c":"L","y":0.38},{"g":"L","c":"L","y":0.38},
{"g":"L","c":"L","y":0.36},{"g":"L","c":"L","y":0.36},{"g":"L","c":"L","y":0.36},{"g":"L","c":"L","y":0.36},{"g":"L","c":"L","y":0.36},{"g":"L","c":"L","y":0.36},{"g":"L","c":"L","y":0.36},{"g":"L","c":"L","y":0.36},
{"g":"L","c":"L","y":0.34},{"g":"L","c":"L","y":0.34},{"g":"L","c":"L","y":0.34},{"g":"L","c":"L","y":0.34},{"g":"L","c":"L","y":0.34},{"g":"L","c":"L","y":0.34},{"g":"L","c":"L","y":0.34},{"g":"L","c":"L","y":0.34},{"g":"L","c":"L","y":0.34},{"g":"L","c":"L","y":0.34},{"g":"L","c":"L","y":0.34},
{"g":"L","c":"L","y":0.32},{"g":"L","c":"L","y":0.32},{"g":"L","c":"L","y":0.32},{"g":"L","c":"L","y":0.32},{"g":"L","c":"L","y":0.32},{"g":"L","c":"L","y":0.32},{"g":"L","c":"L","y":0.32},{"g":"L","c":"L","y":0.32},{"g":"L","c":"L","y":0.32},{"g":"L","c":"L","y":0.32},
{"g":"L","c":"L","y":0.3},{"g":"L","c":"L","y":0.3},{"g":"L","c":"L","y":0.3},{"g":"L","c":"L","y":0.3},{"g":"L","c":"L","y":0.3},{"g":"L","c":"L","y":0.3},{"g":"L","c":"L","y":0.3},{"g":"L","c":"L","y":0.3},{"g":"L","c":"L","y":0.3},{"g":"L","c":"L","y":0.3},{"g":"L","c":"L","y":0.3},{"g":"L","c":"L","y":0.3},{"g":"L","c":"L","y":0.3},{"g":"L","c":"L","y":0.3},{"g":"L","c":"L","y":0.3},{"g":"L","c":"L","y":0.3},{"g":"L","c":"L","y":0.3},
{"g":"L","c":"L","y":0.28},{"g":"L","c":"L","y":0.28},{"g":"L","c":"L","y":0.28},{"g":"L","c":"L","y":0.28},{"g":"L","c":"L","y":0.28},{"g":"L","c":"L","y":0.28},{"g":"L","c":"L","y":0.28},{"g":"L","c":"L","y":0.28},{"g":"L","c":"L","y":0.28},{"g":"L","c":"L","y":0.28},{"g":"L","c":"L","y":0.28},{"g":"L","c":"L","y":0.28},{"g":"L","c":"L","y":0.28},{"g":"L","c":"L","y":0.28},
{"g":"L","c":"L","y":0.26},{"g":"L","c":"L","y":0.26},{"g":"L","c":"L","y":0.26},{"g":"L","c":"L","y":0.26},{"g":"L","c":"L","y":0.26},{"g":"L","c":"L","y":0.26},{"g":"L","c":"L","y":0.26},{"g":"L","c":"L","y":0.26},{"g":"L","c":"L","y":0.26},{"g":"L","c":"L","y":0.26},{"g":"L","c":"L","y":0.26},{"g":"L","c":"L","y":0.26},{"g":"L","c":"L","y":0.26},{"g":"L","c":"L","y":0.26},{"g":"L","c":"L","y":0.26},
{"g":"L","c":"L","y":0.24},{"g":"L","c":"L","y":0.24},{"g":"L","c":"L","y":0.24},{"g":"L","c":"L","y":0.24},{"g":"L","c":"L","y":0.24},{"g":"L","c":"L","y":0.24},{"g":"L","c":"L","y":0.24},{"g":"L","c":"L","y":0.24},{"g":"L","c":"L","y":0.24},{"g":"L","c":"L","y":0.24},{"g":"L","c":"L","y":0.24},{"g":"L","c":"L","y":0.24},{"g":"L","c":"L","y":0.24},{"g":"L","c":"L","y":0.24},
{"g":"L","c":"L","y":0.22},{"g":"L","c":"L","y":0.22},{"g":"L","c":"L","y":0.22},{"g":"L","c":"L","y":0.22},{"g":"L","c":"L","y":0.22},{"g":"L","c":"L","y":0.22},{"g":"L","c":"L","y":0.22},{"g":"L","c":"L","y":0.22},{"g":"L","c":"L","y":0.22},{"g":"L","c":"L","y":0.22},{"g":"L","c":"L","y":0.22},{"g":"L","c":"L","y":0.22},{"g":"L","c":"L","y":0.22},{"g":"L","c":"L","y":0.22},{"g":"L","c":"L","y":0.22},
{"g":"L","c":"L","y":0.2},{"g":"L","c":"L","y":0.2},{"g":"L","c":"L","y":0.2},{"g":"L","c":"L","y":0.2},{"g":"L","c":"L","y":0.2},{"g":"L","c":"L","y":0.2},{"g":"L","c":"L","y":0.2},{"g":"L","c":"L","y":0.2},{"g":"L","c":"L","y":0.2},{"g":"L","c":"L","y":0.2},{"g":"L","c":"L","y":0.2},{"g":"L","c":"L","y":0.2},{"g":"L","c":"L","y":0.2},{"g":"L","c":"L","y":0.2},{"g":"L","c":"L","y":0.2},{"g":"L","c":"L","y":0.2},
{"g":"L","c":"L","y":0.18},{"g":"L","c":"L","y":0.18},{"g":"L","c":"L","y":0.18},{"g":"L","c":"L","y":0.18},{"g":"L","c":"L","y":0.18},{"g":"L","c":"L","y":0.18},{"g":"L","c":"L","y":0.18},{"g":"L","c":"L","y":0.18},{"g":"L","c":"L","y":0.18},{"g":"L","c":"L","y":0.18},{"g":"L","c":"L","y":0.18},{"g":"L","c":"L","y":0.18},{"g":"L","c":"L","y":0.18},{"g":"L","c":"L","y":0.18},{"g":"L","c":"L","y":0.18},
{"g":"L","c":"L","y":0.16},{"g":"L","c":"L","y":0.16},{"g":"L","c":"L","y":0.16},{"g":"L","c":"L","y":0.16},{"g":"L","c":"L","y":0.16},{"g":"L","c":"L","y":0.16},{"g":"L","c":"L","y":0.16},{"g":"L","c":"L","y":0.16},{"g":"L","c":"L","y":0.16},{"g":"L","c":"L","y":0.16},{"g":"L","c":"L","y":0.16},{"g":"L","c":"L","y":0.16},{"g":"L","c":"L","y":0.16},{"g":"L","c":"L","y":0.16},{"g":"L","c":"L","y":0.16},{"g":"L","c":"L","y":0.16},{"g":"L","c":"L","y":0.16},{"g":"L","c":"L","y":0.16},
{"g":"L","c":"L","y":0.14},{"g":"L","c":"L","y":0.14},{"g":"L","c":"L","y":0.14},{"g":"L","c":"L","y":0.14},{"g":"L","c":"L","y":0.14},{"g":"L","c":"L","y":0.14},{"g":"L","c":"L","y":0.14},{"g":"L","c":"L","y":0.14},{"g":"L","c":"L","y":0.14},{"g":"L","c":"L","y":0.14},{"g":"L","c":"L","y":0.14},{"g":"L","c":"L","y":0.14},{"g":"L","c":"L","y":0.14},{"g":"L","c":"L","y":0.14},{"g":"L","c":"L","y":0.14},{"g":"L","c":"L","y":0.14},{"g":"L","c":"L","y":0.14},
{"g":"L","c":"L","y":0.12},{"g":"L","c":"L","y":0.12},{"g":"L","c":"L","y":0.12},{"g":"L","c":"L","y":0.12},{"g":"L","c":"L","y":0.12},{"g":"L","c":"L","y":0.12},{"g":"L","c":"L","y":0.12},{"g":"L","c":"L","y":0.12},{"g":"L","c":"L","y":0.12},{"g":"L","c":"L","y":0.12},{"g":"L","c":"L","y":0.12},{"g":"L","c":"L","y":0.12},{"g":"L","c":"L","y":0.12},{"g":"L","c":"L","y":0.12},{"g":"L","c":"L","y":0.12},{"g":"L","c":"L","y":0.12},{"g":"L","c":"L","y":0.12},{"g":"L","c":"L","y":0.12},{"g":"L","c":"L","y":0.12},{"g":"L","c":"L","y":0.12},
{"g":"L","c":"L","y":0.1},{"g":"L","c":"L","y":0.1},{"g":"L","c":"L","y":0.1},{"g":"L","c":"L","y":0.1},{"g":"L","c":"L","y":0.1},{"g":"L","c":"L","y":0.1},{"g":"L","c":"L","y":0.1},{"g":"L","c":"L","y":0.1},{"g":"L","c":"L","y":0.1},{"g":"L","c":"L","y":0.1},{"g":"L","c":"L","y":0.1},{"g":"L","c":"L","y":0.1},{"g":"L","c":"L","y":0.1},{"g":"L","c":"L","y":0.1},{"g":"L","c":"L","y":0.1},{"g":"L","c":"L","y":0.1},{"g":"L","c":"L","y":0.1},{"g":"L","c":"L","y":0.1},{"g":"L","c":"L","y":0.1},{"g":"L","c":"L","y":0.1},{"g":"L","c":"L","y":0.1},
{"g":"L","c":"L","y":0.08},{"g":"L","c":"L","y":0.08},{"g":"L","c":"L","y":0.08},{"g":"L","c":"L","y":0.08},{"g":"L","c":"L","y":0.08},{"g":"L","c":"L","y":0.08},{"g":"L","c":"L","y":0.08},{"g":"L","c":"L","y":0.08},{"g":"L","c":"L","y":0.08},{"g":"L","c":"L","y":0.08},{"g":"L","c":"L","y":0.08},{"g":"L","c":"L","y":0.08},{"g":"L","c":"L","y":0.08},{"g":"L","c":"L","y":0.08},{"g":"L","c":"L","y":0.08},{"g":"L","c":"L","y":0.08},
{"g":"L","c":"L","y":0.06},{"g":"L","c":"L","y":0.06},{"g":"L","c":"L","y":0.06},{"g":"L","c":"L","y":0.06},{"g":"L","c":"L","y":0.06},{"g":"L","c":"L","y":0.06},{"g":"L","c":"L","y":0.06},{"g":"L","c":"L","y":0.06},{"g":"L","c":"L","y":0.06},
{"g":"L","c":"L","y":0.04},{"g":"L","c":"L","y":0.04},{"g":"L","c":"L","y":0.04},{"g":"L","c":"L","y":0.04},{"g":"L","c":"L","y":0.04},{"g":"L","c":"L","y":0.04},
{"g":"L","c":"L","y":0.02},
{"g":"H","c":"H","y":0.84},{"g":"H","c":"H","y":0.84},{"g":"H","c":"H","y":0.84},{"g":"H","c":"H","y":0.84},
{"g":"H","c":"H","y":0.78},{"g":"H","c":"H","y":0.78},
{"g":"H","c":"H","y":0.755},{"g":"H","c":"H","y":0.755},{"g":"H","c":"H","y":0.755},{"g":"H","c":"H","y":0.755},
{"g":"H","c":"H","y":0.725},{"g":"H","c":"H","y":0.725},{"g":"H","c":"H","y":0.725},
{"g":"H","c":"H","y":0.7},{"g":"H","c":"H","y":0.7},
{"g":"H","c":"H","y":0.675},{"g":"H","c":"H","y":0.675},
{"g":"H","c":"H","y":0.645},
{"g":"H","c":"H","y":0.61},{"g":"H","c":"H","y":0.61},
{"g":"H","c":"H","y":0.59},{"g":"H","c":"H","y":0.59},
{"g":"H","c":"H","y":0.565},{"g":"H","c":"H","y":0.565},
{"g":"H","c":"H","y":0.55},{"g":"H","c":"H","y":0.55},{"g":"H","c":"H","y":0.55},{"g":"H","c":"H","y":0.55},{"g":"H","c":"H","y":0.55},{"g":"H","c":"H","y":0.55},{"g":"H","c":"H","y":0.55},
{"g":"H","c":"H","y":0.53},{"g":"H","c":"H","y":0.53},{"g":"H","c":"H","y":0.53},{"g":"H","c":"H","y":0.53},
{"g":"H","c":"H","y":0.51},{"g":"H","c":"H","y":0.51},{"g":"H","c":"H","y":0.51},{"g":"H","c":"H","y":0.51},{"g":"H","c":"H","y":0.51},
{"g":"H","c":"H","y":0.49},{"g":"H","c":"H","y":0.49},{"g":"H","c":"H","y":0.49},{"g":"H","c":"H","y":0.49},{"g":"H","c":"H","y":0.49},{"g":"H","c":"H","y":0.49},
{"g":"H","c":"H","y":0.47},{"g":"H","c":"H","y":0.47},{"g":"H","c":"H","y":0.47},
{"g":"H","c":"H","y":0.445},{"g":"H","c":"H","y":0.445},{"g":"H","c":"H","y":0.445},
{"g":"H","c":"H","y":0.425},{"g":"H","c":"H","y":0.425},{"g":"H","c":"H","y":0.425},{"g":"H","c":"H","y":0.425},{"g":"H","c":"H","y":0.425},{"g":"H","c":"H","y":0.425},
{"g":"H","c":"H","y":0.405},{"g":"H","c":"H","y":0.405},{"g":"H","c":"H","y":0.405},
{"g":"H","c":"L","y":0.405},{"g":"H","c":"L","y":0.405},
{"g":"H","c":"L","y":0.38},{"g":"H","c":"L","y":0.38},{"g":"H","c":"L","y":0.38},{"g":"H","c":"L","y":0.38},{"g":"H","c":"L","y":0.38},{"g":"H","c":"L","y":0.38},{"g":"H","c":"L","y":0.38},
{"g":"H","c":"L","y":0.36},{"g":"H","c":"L","y":0.36},{"g":"H","c":"L","y":0.36},{"g":"H","c":"L","y":0.36},
{"g":"H","c":"L","y":0.34},{"g":"H","c":"L","y":0.34},{"g":"H","c":"L","y":0.34},
{"g":"H","c":"L","y":0.32},{"g":"H","c":"L","y":0.32},{"g":"H","c":"L","y":0.32},{"g":"H","c":"L","y":0.32},
{"g":"H","c":"L","y":0.3},{"g":"H","c":"L","y":0.3},{"g":"H","c":"L","y":0.3},{"g":"H","c":"L","y":0.3},{"g":"H","c":"L","y":0.3},
{"g":"H","c":"L","y":0.28},{"g":"H","c":"L","y":0.28},
{"g":"H","c":"L","y":0.26},{"g":"H","c":"L","y":0.26},{"g":"H","c":"L","y":0.26},
{"g":"H","c":"L","y":0.215},
{"g":"H","c":"L","y":0.18},{"g":"H","c":"L","y":0.18},{"g":"H","c":"L","y":0.18},
{"g":"H","c":"L","y":0.16},{"g":"H","c":"L","y":0.16}
]
},
"spacing":5,
"resolve":{"scale":{"color":"independent"},"legend":{"color":"independent"}},
"vconcat":[
{"spacing":13,
 "resolve":{"scale":{"color":"independent"},"legend":{"color":"independent"}},
 "hconcat":[
 {"width":338,"height":262,
  "title":{"text":"Patients Who Developed AKI","subtitle":"(A)","fontSize":14.5,"subtitleFontSize":9.5,"dx":-5,"offset":0,"subtitlePadding":1},
  "data":{"name":"A"},
  "transform":[
   {"window":[{"op":"row_number","as":"i"}],"groupby":["g","y"],"sort":[{"field":"c","order":"descending"}]},
   {"joinaggregate":[{"op":"count","as":"n"}],"groupby":["g","y"]},
   {"calculate":"(datum.g == 'L' ? 12.5 : 37.5) + (((datum.i - 1) % 2 == 1) ? 1 : -1) * ceil((datum.i - 1) / 2) - (datum.n % 2 == 0 ? 0.5 : 0)","as":"xp"}
  ],
  "layer":[
   {"mark":{"type":"circle","size":24,"opacity":1},
    "encoding":{
     "x":{"field":"xp","type":"quantitative","scale":{"domain":[0,50],"nice":false,"zero":false},"axis":{"orient":"bottom","values":[12.5,37.5],"title":null,"labelFont":"Lato","labelFontSize":9,"labelPadding":3,"labelExpr":"datum.value < 25 ? 'Low preoperative risk group' : 'High preoperative risk group'"}},
     "y":{"field":"y","type":"quantitative","scale":{"domain":[0,1],"nice":false},"axis":{"orient":"left","values":[0,0.2,0.4,0.6,0.8,1],"format":".1f","title":"Risk score from postoperative stacked model","titlePadding":6}},
     "color":{"field":"c","type":"nominal","scale":{"domain":["L","H"],"range":["#2b8a3c","#e3262b"]},"legend":{"legendX":27,"legendY":14.5,"labelExpr":"datum.label == 'L' ? 'Low postoperative risk group' : 'High postoperative risk group'"}}
    }},
   {"mark":{"type":"point","opacity":0},
    "encoding":{
     "x":{"field":"xp","type":"quantitative","axis":{"orient":"top","values":[12.5,37.5],"labels":false,"title":null}},
     "y":{"field":"y","type":"quantitative","axis":{"orient":"right","values":[0,0.2,0.4,0.6,0.8,1],"labels":false,"title":null}}
    }}
  ],
  "resolve":{"axis":{"x":"independent","y":"independent"}}
 },
 {"width":338,"height":262,
  "title":{"text":"Patients Who Did Not Develop AKI","subtitle":"(C)","fontSize":14.5,"subtitleFontSize":9.5,"dx":-6,"offset":0,"subtitlePadding":1},
  "data":{"name":"C"},
  "transform":[
   {"window":[{"op":"row_number","as":"i"}],"groupby":["g","y"],"sort":[{"field":"c","order":"descending"}]},
   {"joinaggregate":[{"op":"count","as":"n"}],"groupby":["g","y"]},
   {"calculate":"(datum.g == 'L' ? 12.5 : 37.5) + (((datum.i - 1) % 2 == 1) ? 1 : -1) * ceil((datum.i - 1) / 2) - (datum.n % 2 == 0 ? 0.5 : 0)","as":"xp"}
  ],
  "layer":[
   {"mark":{"type":"circle","size":24,"opacity":1},
    "encoding":{
     "x":{"field":"xp","type":"quantitative","scale":{"domain":[0,50],"nice":false,"zero":false},"axis":{"orient":"bottom","values":[12.5,37.5],"title":null,"labelFont":"Lato","labelFontSize":9,"labelPadding":3,"labelExpr":"datum.value < 25 ? 'Low preoperative risk group' : 'High preoperative risk group'"}},
     "y":{"field":"y","type":"quantitative","scale":{"domain":[0,1],"nice":false},"axis":{"orient":"left","values":[0,0.2,0.4,0.6,0.8,1],"format":".1f","title":"Risk score from postoperative stacked model","titlePadding":6}},
     "color":{"field":"c","type":"nominal","scale":{"domain":["L","H"],"range":["#2b8a3c","#e3262b"]},"legend":{"legendX":17,"legendY":8.5,"labelExpr":"datum.label == 'L' ? 'Low postoperative risk group' : 'High postoperative risk group'"}}
    }},
   {"mark":{"type":"point","opacity":0},
    "encoding":{
     "x":{"field":"xp","type":"quantitative","axis":{"orient":"top","values":[12.5,37.5],"labels":false,"title":null}},
     "y":{"field":"y","type":"quantitative","axis":{"orient":"right","values":[0,0.2,0.4,0.6,0.8,1],"labels":false,"title":null}}
    }}
  ],
  "resolve":{"axis":{"x":"independent","y":"independent"}}
 }
 ]},
{"spacing":13,
 "resolve":{"scale":{"color":"independent"},"legend":{"color":"independent"}},
 "hconcat":[
 {"width":338,"height":262,
  "title":{"text":"(B)","fontSize":9.5,"dx":8,"offset":1},
  "data":{"name":"B"},
  "transform":[
   {"window":[{"op":"row_number","as":"i"}],"groupby":["g","y"],"sort":[{"field":"c","order":"descending"}]},
   {"joinaggregate":[{"op":"count","as":"n"}],"groupby":["g","y"]},
   {"calculate":"(datum.g == 'L' ? 12.5 : 37.5) + (((datum.i - 1) % 2 == 1) ? 1 : -1) * ceil((datum.i - 1) / 2) - (datum.n % 2 == 0 ? 0.5 : 0)","as":"xp"}
  ],
  "layer":[
   {"mark":{"type":"circle","size":24,"opacity":1},
    "encoding":{
     "x":{"field":"xp","type":"quantitative","scale":{"domain":[0,50],"nice":false,"zero":false},"axis":{"orient":"bottom","values":[12.5,37.5],"title":null,"labelFont":"Lato","labelFontSize":9,"labelPadding":3,"labelExpr":"datum.value < 25 ? 'Low preoperative risk group' : 'High preoperative risk group'"}},
     "y":{"field":"y","type":"quantitative","scale":{"domain":[0,1],"nice":false},"axis":{"orient":"left","values":[0,0.2,0.4,0.6,0.8,1],"format":".1f","title":"Risk score from postoperative full model","titlePadding":6}},
     "color":{"field":"c","type":"nominal","scale":{"domain":["L","H"],"range":["#2b8a3c","#e3262b"]},"legend":{"legendX":12,"legendY":11.5,"labelExpr":"datum.label == 'L' ? 'Low postoperative risk group' : 'High postoperative risk group'"}}
    }},
   {"mark":{"type":"point","opacity":0},
    "encoding":{
     "x":{"field":"xp","type":"quantitative","axis":{"orient":"top","values":[12.5,37.5],"labels":false,"title":null}},
     "y":{"field":"y","type":"quantitative","axis":{"orient":"right","values":[0,0.2,0.4,0.6,0.8,1],"labels":false,"title":null}}
    }}
  ],
  "resolve":{"axis":{"x":"independent","y":"independent"}}
 },
 {"width":338,"height":262,
  "title":{"text":"(D)","fontSize":9.5,"dx":11,"offset":1},
  "data":{"name":"D"},
  "transform":[
   {"window":[{"op":"row_number","as":"i"}],"groupby":["g","y"],"sort":[{"field":"c","order":"descending"}]},
   {"joinaggregate":[{"op":"count","as":"n"}],"groupby":["g","y"]},
   {"calculate":"(datum.g == 'L' ? 12.5 : 37.5) + (((datum.i - 1) % 2 == 1) ? 1 : -1) * ceil((datum.i - 1) / 2) - (datum.n % 2 == 0 ? 0.5 : 0)","as":"xp"}
  ],
  "layer":[
   {"mark":{"type":"circle","size":24,"opacity":1},
    "encoding":{
     "x":{"field":"xp","type":"quantitative","scale":{"domain":[0,50],"nice":false,"zero":false},"axis":{"orient":"bottom","values":[12.5,37.5],"title":null,"labelFont":"Lato","labelFontSize":9,"labelPadding":3,"labelExpr":"datum.value < 25 ? 'Low preoperative risk group' : 'High preoperative risk group'"}},
     "y":{"field":"y","type":"quantitative","scale":{"domain":[0,1],"nice":false},"axis":{"orient":"left","values":[0,0.2,0.4,0.6,0.8,1],"format":".1f","title":"Risk score from postoperative full model","titlePadding":6}},
     "color":{"field":"c","type":"nominal","scale":{"domain":["L","H"],"range":["#2b8a3c","#e3262b"]},"legend":{"legendX":15,"legendY":14.5,"labelExpr":"datum.label == 'L' ? 'Low postoperative risk group' : 'High postoperative risk group'"}}
    }},
   {"mark":{"type":"point","opacity":0},
    "encoding":{
     "x":{"field":"xp","type":"quantitative","axis":{"orient":"top","values":[12.5,37.5],"labels":false,"title":null}},
     "y":{"field":"y","type":"quantitative","axis":{"orient":"right","values":[0,0.2,0.4,0.6,0.8,1],"labels":false,"title":null}}
    }}
  ],
  "resolve":{"axis":{"x":"independent","y":"independent"}}
 }
 ]}
]
}
